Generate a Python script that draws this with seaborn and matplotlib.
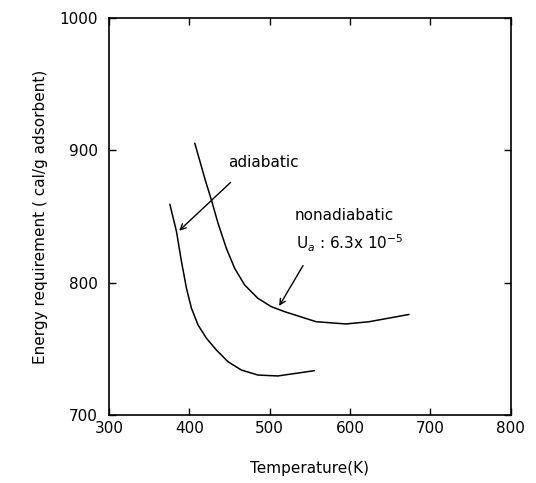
import matplotlib
matplotlib.use("Agg")
import matplotlib.pyplot as plt
import seaborn as sns
import pandas as pd

# adiabatic curve
adia_T = [375.7, 384.0, 390.2, 396.4, 402.6, 410.8, 421.2, 433.6, 448.0,
          464.6, 485.2, 510.0, 532.9, 555.6]
adia_E = [859.3, 838.5, 815.8, 795.7, 780.6, 768.0, 758.0, 749.1, 740.3,
          734.0, 730.2, 729.5, 731.5, 733.5]

# nonadiabatic curve
nonadia_T = [406.7, 413.0, 420.0, 427.4, 435.6, 446.0, 456.3, 468.7, 485.2,
             501.9, 518.4, 557.7, 594.9, 623.8, 673.4]
nonadia_E = [905.4, 892.0, 877.0, 862.5, 845.0, 826.0, 810.9, 798.3, 788.2,
             781.9, 778.1, 770.5, 768.8, 770.5, 776.0]

x_ticks = [300, 400, 500, 600, 700, 800]
y_ticks = [700, 800, 900, 1000]


def main():
    sns.set_style("ticks")
    plt.rcParams['font.family'] = ['DejaVu Sans']
    plt.rcParams['text.color'] = 'black'

    df = pd.concat([
        pd.DataFrame({"T": adia_T, "E": adia_E, "case": "adiabatic"}),
        pd.DataFrame({"T": nonadia_T, "E": nonadia_E, "case": "nonadiabatic"}),
    ])

    fig = plt.figure(figsize=(5.36, 4.83), dpi=100)
    ax = fig.add_axes([0.2034, 0.1408, 0.7496, 0.8219])

    sns.lineplot(data=df, x="T", y="E", units="case", estimator=None,
                 sort=False, color="black", linewidth=1.1, ax=ax, legend=False)

    ax.set_xlim(300, 800)
    ax.set_ylim(700, 1000)
    ax.set_xticks(x_ticks)
    ax.set_yticks(y_ticks)
    ax.tick_params(direction="in", top=True, right=True, length=5,
                   width=1, labelsize=11, colors="black")
    ax.tick_params(axis="x", pad=4)
    ax.tick_params(axis="y", pad=8)
    for s in ax.spines.values():
        s.set_linewidth(1.2)
        s.set_color("black")

    ax.set_xlabel("Temperature(K)", fontsize=11, labelpad=18, color="black")
    ax.set_ylabel("Energy requirement ( cal/g adsorbent)", fontsize=11,
                  labelpad=8, color="black")

    # labels and arrows
    ax.annotate("", xy=(384.7, 837.8), xytext=(453.8, 877.2),
                arrowprops=dict(arrowstyle="->", color="black", lw=1.0))
    ax.annotate("", xy=(510, 780.6), xytext=(543.2, 814.7),
                arrowprops=dict(arrowstyle="->", color="black", lw=1.0))
    ax.text(492, 891, "adiabatic", ha="center", va="center", fontsize=11)
    ax.text(530.8, 850.4, "nonadiabatic", ha="left", va="center", fontsize=11)
    ax.text(533, 830, r"U$_a$ : 6.3x 10$^{-5}$", ha="left", va="center",
            fontsize=11)

    plt.savefig("out.png", dpi=100)
    plt.close()


if __name__ == "__main__":
    main()
